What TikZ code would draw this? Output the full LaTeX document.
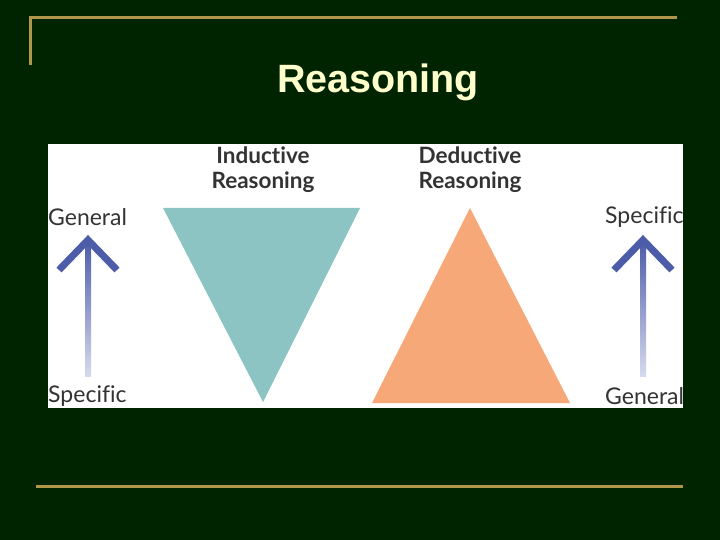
\documentclass[tikz,border=0pt]{standalone}
\usepackage{fontspec}
\setmainfont{Liberation Sans}
\newfontfamily\labfont[Ligatures=NoCommon]{Lato}
\usetikzlibrary{shadings}
\definecolor{bg}{RGB}{0,36,0}
\definecolor{gold}{RGB}{176,150,72}
\definecolor{titlecol}{RGB}{255,255,204}
\definecolor{teal}{RGB}{140,196,196}
\definecolor{peach}{RGB}{246,168,120}
\definecolor{arrowdark}{RGB}{76,92,168}
\definecolor{arrowlight}{RGB}{214,218,238}
\definecolor{txt}{RGB}{51,51,51}
\tikzset{
  rule/.style={draw=gold, line width=3pt},
  heading/.style={font=\labfont\bfseries\fontsize{22.5}{25}\selectfont, text=txt, align=center, inner sep=0pt},
  lab/.style={font=\labfont\fontsize{23}{26}\selectfont, text=txt, inner sep=0pt},
  chev/.style={draw=arrowdark, line width=7pt, miter limit=10},
}
\begin{document}
\begin{tikzpicture}[x=1pt,y=-1pt]
\useasboundingbox (0,0) rectangle (720,540);
\fill[bg] (0,0) rectangle (720,540);
% rules
\draw[rule] (30,65) -- (30,18) -- (677,18);
\draw[rule] (36,486) -- (683,486);
% title
\node[font=\bfseries\fontsize{39.5}{42}\selectfont, text=titlecol, inner sep=0pt] (title) at (378,82) {Reasoning};
% panel
\fill[white] (48,144) rectangle (683,408);
% headings
\node[heading] (ind) at (263,170) {Inductive\\Reasoning};
\node[heading] (ded) at (470,170) {Deductive\\Reasoning};
% triangles
\fill[teal] (163,208) -- (360,208) -- (263,402) -- cycle;
\fill[peach] (470,208) -- (570,403) -- (372,403) -- cycle;
% left arrow
\shade[top color=arrowdark, bottom color=arrowlight] (85,241) rectangle (91,376);
\draw[chev] (59,270) -- (88,240) -- (117,270);
% right arrow
\shade[top color=arrowdark, bottom color=arrowlight] (640,241) rectangle (646,376);
\draw[chev] (614,270) -- (643,240) -- (672,270);
% labels
\node[lab, anchor=west] (lg) at (48,217) {General};
\node[lab, anchor=west] (ls) at (48,396) {Specific};
\begin{scope}
\clip (600,144) rectangle (683,408);
\node[lab, anchor=west] (rs) at (605,217) {Specific};
\node[lab, anchor=west] (rg) at (605,396) {General};
\end{scope}
\end{tikzpicture}
\end{document}
